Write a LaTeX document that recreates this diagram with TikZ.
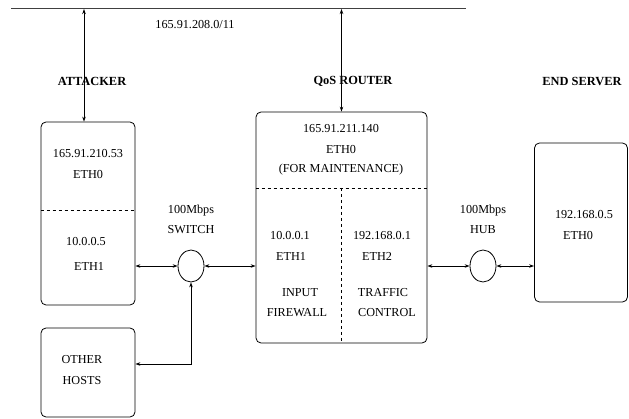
\documentclass[tikz,border=0pt]{standalone}
\usepackage{fontspec}
\setmainfont{Liberation Serif}
\usetikzlibrary{shapes.geometric,arrows.meta}
\begin{document}
\begin{tikzpicture}[x=1pt,y=-1pt,
  every node/.style={font=\fontsize{12.2}{14}\selectfont},
  box/.style={draw,rounded corners=5pt,line width=0.8pt,inner sep=0pt,anchor=center},
  hubnode/.style={draw,ellipse,line width=0.8pt,minimum width=26pt,minimum height=32pt,inner sep=0pt},
  lbl/.style={inner sep=0pt,anchor=center},
  title/.style={inner sep=0pt,anchor=center,font=\fontsize{12.4}{14}\selectfont\bfseries},
  link/.style={line width=0.7pt,{Stealth[length=5pt,width=3.5pt]}-{Stealth[length=5pt,width=3.5pt]}},
  sep/.style={dashed,line width=0.6pt}]
\useasboundingbox (0,0) rectangle (629,419);
% network line
\coordinate (netL) at (11,9);
\coordinate (netR) at (466,9);
\draw[line width=1pt,black!75] (netL) -- (netR);
\node[lbl] (net) at (195,25) {165.91.208.0/11};
% boxes
\node[box,minimum width=94pt,minimum height=183pt] (att) at (88,213.5) {};
\node[box,minimum width=94pt,minimum height=89pt] (oh) at (88,372.5) {};
\node[box,minimum width=171pt,minimum height=231pt] (rt) at (341.5,227.5) {};
\node[box,minimum width=93pt,minimum height=159pt] (srv) at (581,222.5) {};
% hubs
\node[hubnode] (sw) at (191,266) {};
\node[hubnode] (hub) at (483,266) {};
% titles
\node[title] (tatt) at (92,81) {ATTACKER};
\node[title] (trt) at (353,81) {QoS ROUTER};
\node[title] (tsrv) at (582,81) {END SERVER};
% attacker text
\node[lbl] (a1) at (88,154) {165.91.210.53};
\node[lbl] (a2) at (88,175) {ETH0};
\node[lbl] (a3) at (86,242) {10.0.0.5};
\node[lbl] (a4) at (89,266) {ETH1};
\draw[sep] (att.west |- 0,210) -- (att.east |- 0,210);
% other hosts
\node[lbl] (o1) at (82,360) {OTHER};
\node[lbl] (o2) at (82,381) {HOSTS};
% router text
\node[lbl] (r1) at (341,129) {165.91.211.140};
\node[lbl] (r2) at (341,150) {ETH0};
\node[lbl] (r3) at (341,170) {(FOR MAINTENANCE)};
\draw[sep] (rt.west |- 0,188) -- (rt.east |- 0,188);
\draw[sep] (rt.center |- 0,188) -- (rt.south);
\node[lbl] (r4) at (290,236) {10.0.0.1};
\node[lbl] (r5) at (291,256) {ETH1};
\node[lbl] (r6) at (300,293) {INPUT};
\node[lbl] (r7) at (297,313) {FIREWALL};
\node[lbl] (r8) at (382,236) {192.168.0.1};
\node[lbl] (r9) at (377,256) {ETH2};
\node[lbl] (r10) at (383,293) {TRAFFIC};
\node[lbl] (r11) at (387,313) {CONTROL};
% server text
\node[lbl] (s1) at (584,215) {192.168.0.5};
\node[lbl] (s2) at (578,236) {ETH0};
% hub labels
\node[lbl] (sw1) at (191,211) {100Mbps};
\node[lbl] (sw2) at (191,230) {SWITCH};
\node[lbl] (h1) at (483,211) {100Mbps};
\node[lbl] (h2) at (483,230) {HUB};
% connectors
\coordinate (up1) at (84,9);
\coordinate (up2) at (341.5,9);
\coordinate (ohy) at (0,364);
\draw[link] (up1) -- (up1 |- att.north);
\draw[link] (up2) -- (rt.north);
\draw[link] (sw.west -| att.east) -- (sw.west);
\draw[link] (sw.east) -- (sw.east -| rt.west);
\draw[link] (sw.south) |- (oh.east |- ohy);
\draw[link] (hub.west -| rt.east) -- (hub.west);
\draw[link] (hub.east) -- (hub.east -| srv.west);
\end{tikzpicture}
\end{document}
